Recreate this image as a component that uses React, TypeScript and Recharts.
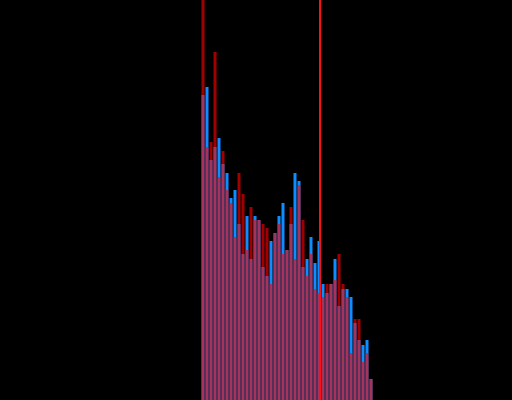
import { BarChart, Bar, XAxis, YAxis, ReferenceLine } from "recharts";

// histogram bins (index of each bin)
const bins = [
  0, 1, 2, 3, 4, 5, 6, 7, 8, 9, 10, 11, 12, 13, 14, 15, 16, 17, 18, 19, 20,
  21, 22, 23, 24, 25, 26, 27, 28, 29, 30, 31, 32, 33, 34, 35, 36, 37, 38, 39,
  40, 41, 42,
];

// counts per bin
const blueCounts = [
  305, 313, 240, 253, 262, 236, 227, 202, 210, 176, 146, 184, 141, 184, 180,
  133, 124, 159, 167, 184, 197, 150, 176, 227, 219, 133, 141, 163, 137, 159,
  116, 107, 116, 141, 94, 111, 111, 103, 77, 60, 55, 60, 21,
];
const redCounts = [
  460, 253, 258, 348, 223, 249, 210, 197, 163, 227, 206, 150, 193, 180, 180,
  176, 172, 116, 167, 176, 146, 150, 193, 141, 215, 180, 124, 146, 111, 107,
  103, 116, 116, 120, 146, 116, 103, 47, 81, 81, 38, 47, 21,
];

const cutoff = 29.375;

const data = bins.map((b, i) => ({
  bin: b,
  blue: blueCounts[i],
  red: redCounts[i],
}));

export default function App() {
  return (
    <div
      style={{
        position: "absolute",
        left: 0,
        top: 0,
        width: 512,
        height: 400,
        background: "#000",
      }}
    >
      <BarChart
        width={512}
        height={400}
        data={data}
        margin={{ top: 0, right: 0, bottom: 0, left: 0 }}
      >
        <XAxis
          xAxisId="a"
          dataKey="bin"
          type="number"
          domain={[-50.625, 77.375]}
          hide
        />
        <XAxis
          xAxisId="b"
          dataKey="bin"
          type="number"
          domain={[-50.625, 77.375]}
          hide
        />
        <YAxis domain={[0, 400]} allowDataOverflow hide />
        <Bar
          xAxisId="a"
          dataKey="blue"
          fill="#0f8cff"
          barSize={3}
          isAnimationActive={false}
        />
        <Bar
          xAxisId="b"
          dataKey="red"
          fill="#ff0000"
          fillOpacity={0.63}
          barSize={3}
          isAnimationActive={false}
        />
        <ReferenceLine
          xAxisId="a"
          x={cutoff}
          stroke="#ff1010"
          strokeWidth={2}
        />
      </BarChart>
    </div>
  );
}
